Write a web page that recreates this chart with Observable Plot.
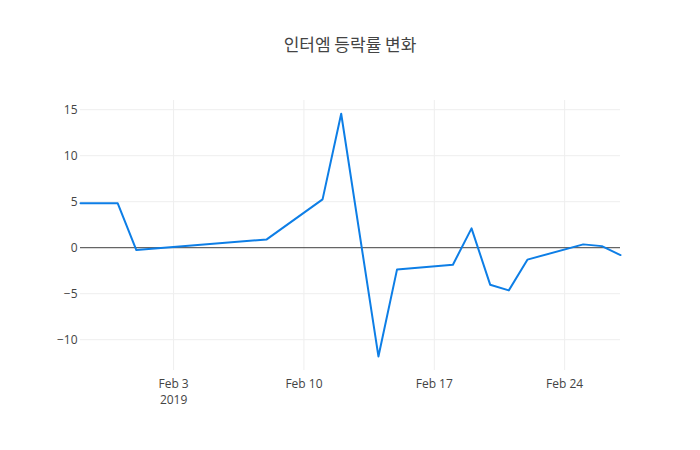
<!DOCTYPE html>
<html>
<head>
<meta charset="utf-8">
<script src="https://cdn.jsdelivr.net/npm/d3@7"></script>
<script src="https://cdn.jsdelivr.net/npm/@observablehq/plot@0.6"></script>
<style>
  html, body { margin: 0; padding: 0; background: #fff; }
  #wrap { width: 700px; height: 450px; background: #fff; font-family: "Open Sans", "Noto Sans CJK KR", sans-serif; }
  #title { height: 70px; box-sizing: border-box; padding-top: 33px; line-height: 22px; text-align: center;
           font-size: 17px; color: #444; font-family: "Noto Sans CJK KR", "Open Sans", sans-serif; }
  #chart svg { display: block; }
</style>
</head>
<body>
<div id="wrap">
  <div id="title">인터엠 등락률 변화</div>
  <div id="chart"></div>
</div>
<script>
const titleText = "인터엠 등락률 변화";
const dates = ["2019-01-29","2019-01-31","2019-02-01","2019-02-08","2019-02-11","2019-02-12","2019-02-14","2019-02-15","2019-02-18","2019-02-19","2019-02-20","2019-02-21","2019-02-22","2019-02-25","2019-02-26","2019-02-27"];
const values = [4.82,4.82,-0.26,0.9,5.25,14.56,-11.82,-2.36,-1.85,2.1,-4.02,-4.64,-1.3,0.36,0.17,-0.8];
const xTickDates = ["2019-02-03","2019-02-10","2019-02-17","2019-02-24"];
const xTickLabels = ["Feb 3\n2019","Feb 10","Feb 17","Feb 24"];
const yTicks = [-10,-5,0,5,10,15];

document.getElementById("title").textContent = titleText;

const data = dates.map((d, i) => ({date: new Date(d + "T00:00:00Z"), value: values[i]}));
const xTicks = xTickDates.map(d => new Date(d + "T00:00:00Z"));
const labelFor = new Map(xTicks.map((d, i) => [+d, xTickLabels[i]]));

const chart = Plot.plot({
  width: 700,
  height: 380,
  marginTop: 30,
  marginBottom: 80,
  marginLeft: 80,
  marginRight: 80,
  style: {fontFamily: "Open Sans, sans-serif", fontSize: "12px", color: "#444", background: "#fff"},
  x: {type: "utc", domain: [new Date("2019-01-29T00:00:00Z"), new Date("2019-02-27T00:00:00Z")]},
  y: {domain: [-13.35, 16.0]},
  marks: [
    Plot.gridX(xTicks, {stroke: "#eee", strokeOpacity: 1}),
    Plot.gridY(yTicks, {stroke: "#eee", strokeOpacity: 1}),
    Plot.ruleY([0], {stroke: "#444", strokeWidth: 1}),
    Plot.axisX(xTicks, {tickSize: 0, tickPadding: 6, lineHeight: 1.35, tickFormat: d => labelFor.get(+d), label: null, fill: "#444"}),
    Plot.axisY(yTicks, {tickSize: 0, tickPadding: 3, tickFormat: d => d < 0 ? "\u2212" + Math.abs(d) : String(d), label: null, fill: "#444"}),
    Plot.line(data, {x: "date", y: "value", stroke: "#0d7ee6", strokeWidth: 2})
  ]
});
document.getElementById("chart").appendChild(chart);
</script>
</body>
</html>
